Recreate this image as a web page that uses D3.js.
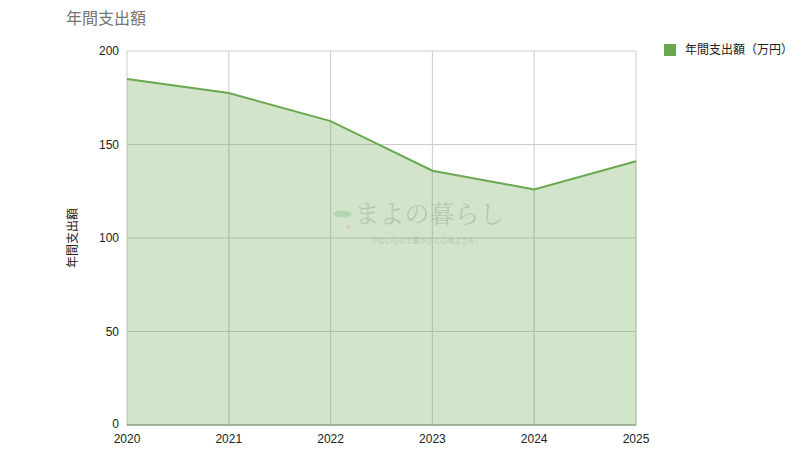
<!DOCTYPE html>
<html>
<head>
<meta charset="utf-8">
<script src="https://cdn.jsdelivr.net/npm/d3@7"></script>
<style>
  body { margin: 0; background: #fff; }
  svg text { font-family: "Noto Sans CJK JP", "Noto Sans", Arial, sans-serif; }
  svg text.num { font-family: "Liberation Sans", Arial, sans-serif; }
</style>
</head>
<body>
<div class="chart"></div>
<script>
const years = [2020, 2021, 2022, 2023, 2024, 2025]
const spending = [185, 177.5, 162.5, 136, 126, 141]
const yTicks = [0, 50, 100, 150, 200]
const seriesName = '年間支出額（万円）'
const chartTitle = '年間支出額'

const W = 812
const H = 457
const MARGIN = { top: 51, bottom: 32, left: 127, right: 176 }
const GREEN = '#6aa84f'

const svg = d3.select('.chart').append('svg')
	.attr('width', W)
	.attr('height', H)

const chartW = W - MARGIN.left - MARGIN.right
const chartH = H - MARGIN.top - MARGIN.bottom

const scale = {}
scale.x = d3.scalePoint().domain(years).range([0, chartW])
scale.y = d3.scaleLinear().domain([0, 200]).range([chartH, 0])

const chart = svg.append('g')
	.attr('transform', `translate(${MARGIN.left},${MARGIN.top})`)

// grid
chart.append('g')
	.selectAll('line')
	.data(yTicks.filter(d => d > 0))
	.join('line')
	.attr('x1', 0).attr('x2', chartW)
	.attr('y1', d => scale.y(d)).attr('y2', d => scale.y(d))
	.attr('stroke', '#cccccc')

chart.append('g')
	.selectAll('line')
	.data(years)
	.join('line')
	.attr('x1', d => scale.x(d)).attr('x2', d => scale.x(d))
	.attr('y1', 0).attr('y2', chartH)
	.attr('stroke', '#cccccc')

const data = years.map((y, i) => ({ year: y, value: spending[i] }))

const area = d3.area()
	.x(d => scale.x(d.year))
	.y0(scale.y(0))
	.y1(d => scale.y(d.value))

const line = d3.line()
	.x(d => scale.x(d.year))
	.y(d => scale.y(d.value))

chart.append('path')
	.attr('d', area(data))
	.attr('fill', GREEN)
	.attr('fill-opacity', 0.3)

// vertical grid shows through the fill
chart.append('g')
	.selectAll('line')
	.data(years.slice(1))
	.join('line')
	.attr('x1', d => scale.x(d)).attr('x2', d => scale.x(d))
	.attr('y1', d => scale.y(spending[years.indexOf(d)])).attr('y2', chartH)
	.attr('stroke', '#b3c9a8')

chart.append('path')
	.attr('d', line(data))
	.attr('fill', 'none')
	.attr('stroke', GREEN)
	.attr('stroke-width', 2)

// baseline
chart.append('line')
	.attr('x1', 0).attr('x2', chartW)
	.attr('y1', chartH).attr('y2', chartH)
	.attr('stroke', '#8a9a84')
	.attr('stroke-width', 1.5)

// watermark
const wm = chart.append('g')
	.attr('transform', `translate(${scale.x(2022) + 24},${scale.y(108)})`)
	.attr('opacity', 0.35)
wm.append('text')
	.attr('x', 0).attr('y', 0)
	.attr('font-size', 25)
	.attr('fill', '#8a9284')
	.style('font-family', '"Noto Serif CJK JP", "Noto Sans CJK JP", serif')
	.text('まよの暮らし')
wm.append('text')
	.attr('x', 16).attr('y', 20)
	.attr('font-size', 7)
	.attr('fill', '#8a9284')
	.text('少ないもので豊かさと心地よさを。')
wm.append('ellipse')
	.attr('cx', -12).attr('cy', -9).attr('rx', 9).attr('ry', 3.5)
	.attr('fill', '#7fc08a')
wm.append('circle')
	.attr('cx', -6).attr('cy', 4).attr('r', 2)
	.attr('fill', '#e8a0a0')

// y tick labels
svg.append('g')
	.selectAll('text')
	.data(yTicks)
	.join('text')
	.attr('class', 'num')
	.attr('x', MARGIN.left - 8)
	.attr('y', d => MARGIN.top + scale.y(d) - (d === 0 ? 1 : 0))
	.attr('dy', '0.35em')
	.attr('text-anchor', 'end')
	.attr('font-size', 12)
	.attr('fill', '#222')
	.text(d => d)

// x tick labels
svg.append('g')
	.selectAll('text')
	.data(years)
	.join('text')
	.attr('class', 'num')
	.attr('x', d => MARGIN.left + scale.x(d))
	.attr('y', MARGIN.top + chartH + 18)
	.attr('text-anchor', 'middle')
	.attr('font-size', 12)
	.attr('fill', '#222')
	.text(d => d)

// title
svg.append('text')
	.attr('x', 66).attr('y', 24)
	.attr('font-size', 16)
	.attr('fill', '#757575')
	.text(chartTitle)

// y axis title
svg.append('text')
	.attr('transform', `translate(77,${MARGIN.top + chartH / 2}) rotate(-90)`)
	.attr('text-anchor', 'middle')
	.attr('font-size', 12)
	.attr('fill', '#222')
	.text(chartTitle)

// legend
const legend = svg.append('g').attr('transform', 'translate(664,44)')
legend.append('rect')
	.attr('width', 12).attr('height', 12)
	.attr('fill', GREEN)
legend.append('text')
	.attr('x', 21).attr('y', 6)
	.attr('dy', '0.35em')
	.attr('font-size', 12)
	.attr('fill', '#222')
	.text(seriesName)
</script>
</body>
</html>
